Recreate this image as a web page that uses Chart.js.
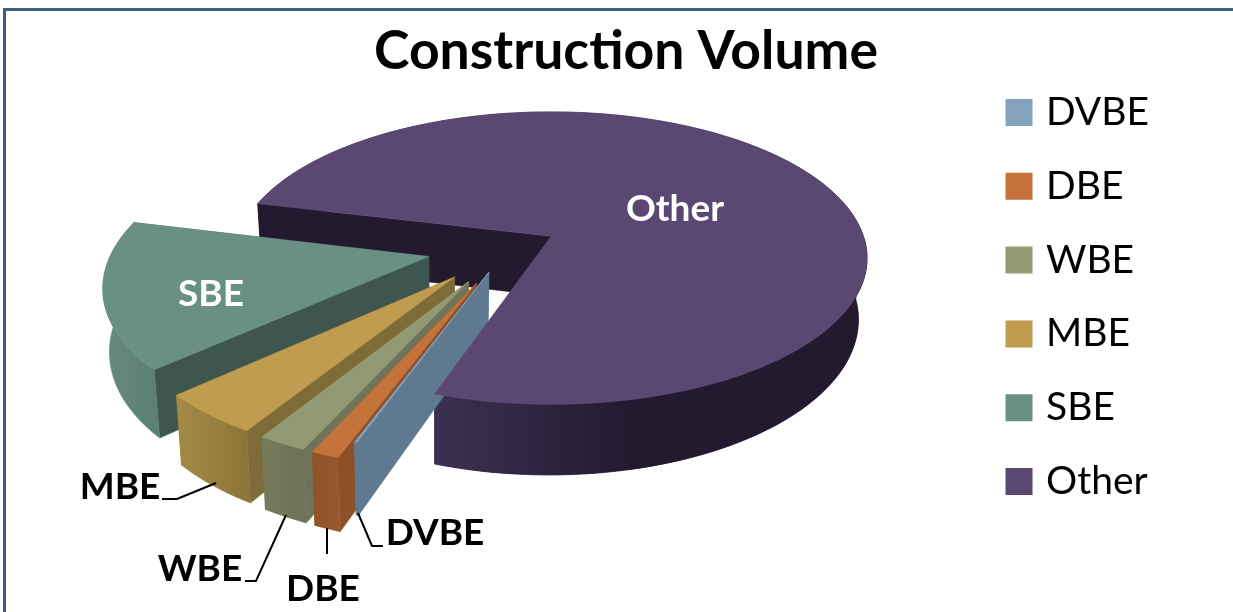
<!DOCTYPE html>
<html>
<head>
<meta charset="utf-8">
<style>
  html, body { margin: 0; padding: 0; background: #fff; overflow: hidden; }
  #frame { position: absolute; left: 3px; top: 8px; width: 1300px; height: 700px; border: 3px solid #3a5f80; }
  #chart { position: absolute; left: 0; top: 0; }
</style>
<script src="https://cdn.jsdelivr.net/npm/chart.js@4/dist/chart.umd.min.js"></script>
</head>
<body>
<div id="frame"></div>
<canvas id="chart" width="1233" height="612"></canvas>
<script>
const categories = ["DVBE", "DBE", "WBE", "MBE", "SBE", "Other"];
const shares = [0.1, 1.2, 2.1, 4.5, 15.7, 76.4];
const explode = [55, 80, 80, 80, 80, 48];

const topColors = ["#85a3bc", "#c4733b", "#929a73", "#bf9c50", "#6a9085", "#5a4872"];
const cutColors = ["#5f7a90", "#8d5029", "#6e7459", "#7e6b38", "#3f5650", "#231a30"];
const wallColors = [
    ["#5f7a90", "#5f7a90"],
    ["#8f5229", "#96582e"],
    ["#757b5c", "#6c7255"],
    ["#a58a46", "#8c7538"],
    ["#668a7f", "#5c8074"],
    ["#3c3052", "#231a30"]
];

// tilted view of the pie, ground units are px at the height of the apex of Other
const view = { x: 550, y: 235, squash: 0.457, persp: 0.000477, depth: 60, radius: 312, pieX: -41, pieY: 26, floorX: 436, floorScale: 0.98 };

const callouts = [
    { text: "Other", x: 675, y: 209, color: "#fff", line: [] },
    { text: "SBE", x: 211, y: 294, color: "#fff", line: [] },
    { text: "MBE", x: 120, y: 487, color: "#000", line: [[162, 499], [177, 499], [216, 483]] },
    { text: "WBE", x: 200, y: 569, color: "#000", line: [[245, 581], [256, 581], [286, 515]] },
    { text: "DBE", x: 323, y: 589, color: "#000", line: [[327, 554], [327, 528]] },
    { text: "DVBE", x: 435, y: 533, color: "#000", line: [[383, 546], [372, 546], [358, 513]] }
];

function project(u, v, down) {
    const w = 1 - view.persp * v;
    const x = view.x + u / w;
    const y = view.y + view.squash * v / w;
    if (!down) return [x, y];
    // the underside sits further from the eye, so it pulls in a little
    return [view.floorX + (x - view.floorX) * view.floorScale, y + view.depth / w];
}

function slicePoints(arc, i) {
    const start = arc.startAngle, end = arc.endAngle;
    const mid = (start + end) / 2;
    const cu = view.pieX + Math.cos(mid) * explode[i];
    const cv = view.pieY + Math.sin(mid) * explode[i];
    const rim = [];
    const steps = Math.max(2, Math.ceil((end - start) / 0.03));
    for (let s = 0; s <= steps; s++) {
        const a = start + (end - start) * s / steps;
        rim.push([cu + Math.cos(a) * view.radius, cv + Math.sin(a) * view.radius]);
    }
    return { apex: [cu, cv], rim: rim };
}

function fillPoly(ctx, pts, fill) {
    ctx.beginPath();
    pts.forEach((p, n) => n ? ctx.lineTo(p[0], p[1]) : ctx.moveTo(p[0], p[1]));
    ctx.closePath();
    ctx.fillStyle = fill;
    ctx.strokeStyle = fill;
    ctx.lineWidth = 0.5;
    ctx.fill();
    ctx.stroke();
}

function cutFace(ctx, s, edge, color) {
    const a = s.apex;
    fillPoly(ctx, [project(a[0], a[1]), project(edge[0], edge[1]), project(edge[0], edge[1], true), project(a[0], a[1], true)], color);
}

function wallBand(ctx, rim, fill) {
    const upper = rim.map(p => project(p[0], p[1]));
    const lower = rim.map(p => project(p[0], p[1], true)).reverse();
    fillPoly(ctx, upper.concat(lower), fill);
}

function outerWall(ctx, s, i) {
    let rim = s.rim;
    if (i === 5) {
        // Other wraps round the back: flat dark there, shaded only along the front
        wallBand(ctx, rim, wallColors[i][1]);
        rim = rim.filter(p => p[1] > s.apex[1]);
    }
    const xs = rim.map(p => project(p[0], p[1])[0]);
    const left = Math.min(...xs), right = Math.max(...xs);
    const grad = ctx.createLinearGradient(left, 0, i === 5 ? left + (right - left) * 0.45 : right, 0);
    grad.addColorStop(0, wallColors[i][0]);
    grad.addColorStop(1, wallColors[i][1]);
    wallBand(ctx, rim, grad);
}

function topFace(ctx, s, i) {
    const pts = [project(s.apex[0], s.apex[1])].concat(s.rim.map(p => project(p[0], p[1])));
    fillPoly(ctx, pts, topColors[i]);
}

const tiltedPie = {
    id: "tiltedPie",
    beforeDatasetDraw(chart, args) {
        const ctx = chart.ctx;
        const arcs = args.meta.data;
        const last = arcs.length - 1;
        const big = slicePoints(arcs[last], last);
        ctx.save();
        // back of Other goes behind the exploded slices, its top goes over them
        cutFace(ctx, big, big.rim[0], cutColors[last]);
        outerWall(ctx, big, last);
        for (let i = last - 1; i >= 0; i--) {
            const s = slicePoints(arcs[i], i);
            cutFace(ctx, s, s.rim[s.rim.length - 1], cutColors[i]);
            cutFace(ctx, s, s.rim[0], cutColors[i]);
            outerWall(ctx, s, i);
            topFace(ctx, s, i);
        }
        topFace(ctx, big, last);
        ctx.restore();
        return false;
    },
    afterDatasetsDraw(chart) {
        const ctx = chart.ctx;
        ctx.save();
        ctx.font = "bold 37px Lato";
        ctx.textAlign = "center";
        ctx.textBaseline = "middle";
        callouts.forEach(c => {
            ctx.fillStyle = c.color;
            ctx.fillText(c.text, c.x, c.y);
            if (c.line.length) {
                ctx.beginPath();
                c.line.forEach((p, n) => n ? ctx.lineTo(p[0], p[1]) : ctx.moveTo(p[0], p[1]));
                ctx.strokeStyle = "#000";
                ctx.lineWidth = 2;
                ctx.stroke();
            }
        });
        ctx.restore();
    }
};

new Chart(document.getElementById("chart"), {
    type: "pie",
    data: {
        labels: categories,
        datasets: [{
            data: shares,
            backgroundColor: topColors,
            borderColor: topColors,
            borderWidth: 12
        }]
    },
    options: {
        responsive: false,
        animation: false,
        rotation: 198.7,
        layout: { padding: { left: 93, right: 74, top: 10, bottom: 28 } },
        plugins: {
            title: {
                display: true,
                text: "Construction Volume",
                color: "#000",
                font: { family: "Lato", size: 53.5, weight: "bold" },
                padding: { top: 10, bottom: 8 }
            },
            legend: {
                position: "right",
                labels: {
                    color: "#000",
                    font: { family: "Lato", size: 39 },
                    boxWidth: 15,
                    boxHeight: 15,
                    padding: 34.8
                }
            },
            tooltip: { enabled: false }
        }
    },
    plugins: [tiltedPie]
});
</script>
</body>
</html>
